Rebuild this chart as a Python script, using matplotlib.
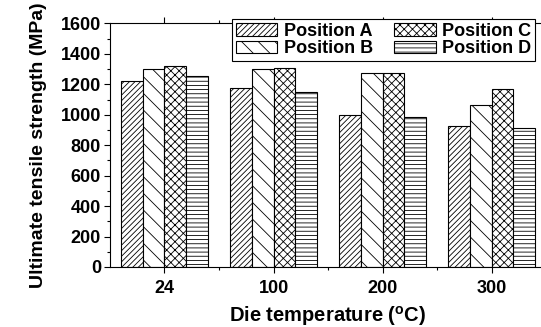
import matplotlib
matplotlib.use('Agg')
import matplotlib.pyplot as plt
from matplotlib.ticker import MultipleLocator, FixedLocator
import numpy as np

# data
temps = ['24', '100', '200', '300']
positions = ['Position A', 'Position B', 'Position C', 'Position D']
pos_a = [1222, 1174, 998, 923]
pos_b = [1303, 1301, 1271, 1066]
pos_c = [1317, 1305, 1271, 1167]
pos_d = [1253, 1147, 984, 912]
hatches = ['//////', '\\\\', 'xxxx', '----']

plt.rcParams['font.family'] = ['Liberation Sans', 'DejaVu Sans']
plt.rcParams['font.weight'] = 'bold'
plt.rcParams['hatch.linewidth'] = 0.6
plt.rcParams['mathtext.fontset'] = 'custom'
plt.rcParams['mathtext.bf'] = 'Liberation Sans:bold'
plt.rcParams['mathtext.rm'] = 'Liberation Sans:bold'

fig = plt.figure(figsize=(5.41, 3.27), dpi=100)
ax = fig.add_axes([0.2033, 0.1835, 0.806, 0.745])

x = np.arange(len(temps))
w = 0.2
series = [pos_a, pos_b, pos_c, pos_d]
for i, (vals, lab, h) in enumerate(zip(series, positions, hatches)):
    ax.bar(x + (i - 1.5) * w, vals, w, color='white', edgecolor='black',
           linewidth=0.8, hatch=h, label=lab)

ax.set_xlim(-0.5, 3.5)
ax.set_ylim(0, 1600)
ax.set_xticks(x)
ax.set_xticklabels(temps)
ax.xaxis.set_minor_locator(FixedLocator([0.5, 1.5, 2.5]))
ax.yaxis.set_major_locator(MultipleLocator(200))
ax.yaxis.set_minor_locator(MultipleLocator(100))
ax.tick_params(axis='both', which='major', labelsize=13, length=4.5, width=0.8)
ax.tick_params(axis='both', which='minor', length=2.5, width=0.8)
ax.tick_params(axis='x', which='major', pad=5)
ax.tick_params(axis='y', which='major', pad=2)
ax.tick_params(axis='x', which='both', top=True)
for lbl in ax.get_xticklabels() + ax.get_yticklabels():
    lbl.set_fontweight('bold')
for s in ax.spines.values():
    s.set_linewidth(0.8)

ax.set_xlabel(r'Die temperature ($^{\mathrm{o}}$C)', fontsize=14.5,
              fontweight='bold', labelpad=5)
ax.set_ylabel('Ultimate tensile strength (MPa)', fontsize=14,
              fontweight='bold', labelpad=10)

leg = ax.legend(ncol=2, loc='upper left', bbox_to_anchor=(0.429, 0.942),
                bbox_transform=fig.transFigure, borderaxespad=0,
                prop={'weight': 'bold', 'size': 13},
                fancybox=False, edgecolor='black', framealpha=1,
                handlelength=2.3, handleheight=0.7, columnspacing=1.2,
                borderpad=0.2, labelspacing=0.05, handletextpad=0.35)
leg.get_frame().set_linewidth(0.8)

fig.savefig('out.png', dpi=100)
